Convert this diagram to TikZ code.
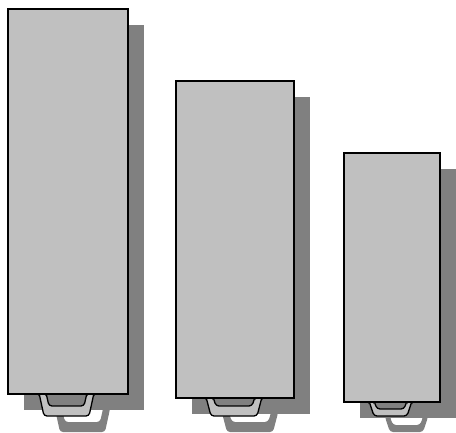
\documentclass[tikz,border=0pt]{standalone}
\definecolor{boxgray}{HTML}{C0C0C0}
\definecolor{shadowgray}{HTML}{808080}
\tikzset{
  boxstyle/.style={fill=boxgray,draw=black,line width=1.3pt},
  shadowstyle/.style={fill=shadowgray},
  handlestyle/.style={fill=boxgray,draw=black,line width=1.3pt},
}
% #1 cx, #2 top, #3 outer width, #4 outer height, #5 inner width, #6 inner height, #7 style
\newcommand{\handlepic}[7]{%
  \path[#7, even odd rule, rounded corners=3]
    (#1-#3/2,#2-3) -- (#1-#3/2,#2) -- (#1-#3/2+5,#2+#4) -- (#1+#3/2-5,#2+#4) -- (#1+#3/2,#2) -- (#1+#3/2,#2-3) -- cycle
    (#1-#5/2,#2-3) -- (#1-#5/2,#2) -- (#1-#5/2+3,#2+#6) -- (#1+#5/2-3,#2+#6) -- (#1+#5/2,#2) -- (#1+#5/2,#2-3) -- cycle;}
\begin{document}
\begin{tikzpicture}[x=1pt,y=-1pt]
\useasboundingbox (0,0) rectangle (456,432);
% unit 1
\fill[shadowstyle] (24,25) rectangle (144,410);
\handlepic{82.5}{409}{55}{23}{41}{13}{shadowstyle}
\handlepic{66.5}{393}{55}{23}{41}{13}{handlestyle}
\path[boxstyle] (8,9) rectangle (128,394);
% unit 2
\fill[shadowstyle] (192,97) rectangle (310,414);
\handlepic{250}{413}{56}{19}{42}{9}{shadowstyle}
\handlepic{234}{397}{56}{19}{42}{9}{handlestyle}
\path[boxstyle] (176,81) rectangle (294,398);
% unit 3
\fill[shadowstyle] (360,169) rectangle (456,418);
\handlepic{406.5}{417}{43}{15}{33}{8}{shadowstyle}
\handlepic{390.5}{401}{43}{15}{33}{8}{handlestyle}
\path[boxstyle] (344,153) rectangle (440,402);
\end{tikzpicture}
\end{document}
